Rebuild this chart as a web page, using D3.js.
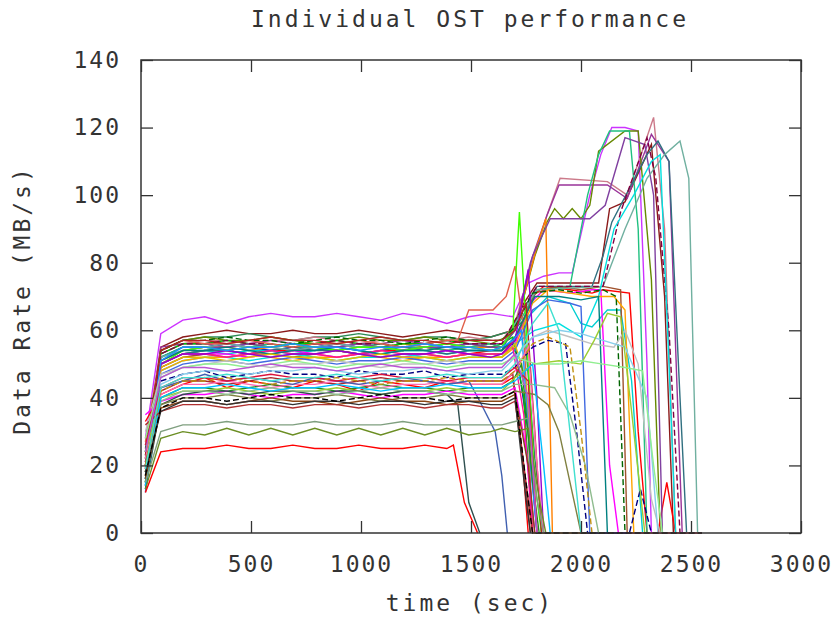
<!DOCTYPE html>
<html>
<head>
<meta charset="utf-8">
<script src="https://cdn.jsdelivr.net/npm/d3@7"></script>
<style>
  body { margin: 0; background: #fff; }
  text { font-family: "DejaVu Sans Mono", monospace; fill: #333; }
</style>
</head>
<body>
<div id="chart"></div>
<script>
const WIDTH = 837, HEIGHT = 621;
const MARGIN = { TOP: 60, RIGHT: 36, BOTTOM: 88, LEFT: 141 };

const xTicks = [0, 500, 1000, 1500, 2000, 2500, 3000];
const yTicks = [0, 20, 40, 60, 80, 100, 120, 140];

// shared sample times for the steady part of each run
const plateauTimes = [20, 90, 190, 290, 390, 490, 590, 690, 790, 890, 990, 1090, 1190, 1290, 1390, 1490, 1590];

const plateauValues = [
  [28, 59, 63, 64, 62, 64, 65, 64, 64, 65, 64, 63, 65, 64, 62, 64, 65],
  [22, 55, 58, 59, 60, 59, 59, 60, 59, 59, 60, 59, 58, 59, 60, 59, 58],
  [20, 54, 57, 58, 58, 59, 58, 57, 58, 58, 59, 58, 57, 58, 58, 57, 58],
  [18, 53, 56, 57, 57, 56, 57, 57, 58, 57, 56, 57, 57, 56, 57, 58, 57],
  [25, 55, 56, 56, 55, 56, 57, 56, 56, 55, 56, 56, 57, 56, 55, 56, 56],
  [22, 54, 57, 58, 57, 57, 58, 57, 56, 57, 58, 57, 57, 58, 57, 57, 56],
  [15, 52, 55, 55, 56, 55, 54, 55, 55, 56, 55, 55, 54, 55, 56, 55, 55],
  [17, 51, 54, 55, 55, 54, 55, 56, 55, 54, 55, 55, 56, 55, 54, 55, 55],
  [19, 50, 53, 54, 54, 53, 54, 54, 55, 54, 53, 54, 54, 55, 54, 53, 54],
  [24, 53, 56, 56, 57, 56, 55, 56, 56, 57, 56, 55, 56, 56, 57, 56, 55],
  [16, 50, 53, 54, 53, 54, 54, 53, 54, 55, 54, 53, 54, 54, 53, 54, 54],
  [21, 49, 52, 53, 53, 52, 53, 54, 53, 52, 53, 53, 52, 53, 54, 53, 52],
  [23, 52, 55, 55, 54, 55, 56, 55, 55, 54, 55, 56, 55, 55, 54, 55, 56],
  [20, 51, 54, 55, 55, 56, 55, 54, 55, 55, 56, 55, 54, 55, 55, 56, 55],
  [18, 50, 53, 54, 54, 53, 54, 55, 54, 54, 53, 54, 55, 54, 53, 54, 54],
  [14, 49, 52, 53, 52, 53, 53, 52, 53, 54, 53, 52, 53, 53, 52, 53, 53],
  [26, 52, 54, 55, 56, 55, 55, 54, 55, 56, 55, 55, 54, 55, 56, 55, 54],
  [19, 53, 56, 56, 57, 56, 56, 55, 56, 57, 56, 56, 55, 56, 57, 56, 56],
  [13, 48, 51, 52, 52, 51, 52, 53, 52, 51, 52, 52, 53, 52, 51, 52, 52],
  [27, 54, 57, 56, 56, 57, 56, 55, 56, 56, 57, 56, 55, 56, 57],
  [15, 50, 54, 55, 54, 55, 55, 56, 55, 54, 55, 55, 54, 55, 56, 55, 54],
  [17, 48, 51, 52, 52, 53, 52, 51, 52, 52, 53, 52, 51, 52, 52, 53, 52],
  [12, 47, 50, 51, 51, 50, 51, 52, 51, 50, 51, 51, 52, 51, 50, 51, 51],
  [20, 50, 53, 53, 52, 53, 54, 53, 53, 52, 53, 54, 53, 53, 52, 53, 53],
  [24, 54, 57, 57, 58, 57, 57, 56, 57, 58, 57, 57, 56, 57, 58, 57, 57],
  [16, 51, 54, 54, 55, 54, 53, 54, 54, 55, 54, 53, 54, 54, 55, 54, 54],
  [18, 49, 52, 52, 51, 52, 53, 52, 52, 51, 52, 53, 52, 52, 51, 52, 52],
  [21, 50, 53, 53, 54, 53, 52, 53, 53, 54, 53, 52, 53, 53, 54, 53, 52],
  [14, 51, 55, 55, 54, 55, 55, 56, 55, 55, 54, 55, 55, 56, 55, 55, 54],
  [23, 54, 57, 57, 56, 57, 58, 57, 57, 56, 57, 58, 57, 57, 56, 57, 57],
  [30, 47, 49, 50, 51, 50, 49, 50, 50, 51, 50, 49, 50, 50, 51, 50, 50],
  [16, 45, 47, 48, 46, 47, 48, 47, 47, 46, 48, 47, 47, 48, 46, 47, 47],
  [19, 44, 47, 48, 48, 47, 48, 48, 49, 48, 47, 48, 48, 49, 48, 47, 48],
  [33, 41, 44, 46, 43, 45, 44, 43, 45, 44, 42, 45, 44, 43, 45, 44, 44],
  [20, 42, 45, 45, 44, 45, 46, 45, 45, 44, 45, 46, 45, 45, 44, 45, 45],
  [15, 40, 43, 43, 42, 43, 44, 43, 43, 42, 43, 44, 43, 43, 42, 43, 43],
  [22, 41, 44, 44, 45, 44, 43, 44, 44, 45, 44, 43, 44, 44, 45, 44, 44],
  [17, 43, 45, 47, 45, 46, 45, 44, 46, 45, 44, 45, 46, 45, 44, 45],
  [24, 40, 42, 42, 43, 42, 41, 42, 42, 43, 42, 41, 42, 42, 43, 42, 42],
  [35, 39, 41, 41, 42, 41, 40, 41, 41, 42, 41, 40, 41, 41, 42, 41, 41],
  [13, 38, 41, 42, 42, 41, 42, 42, 41, 42, 42, 41, 42, 42, 41],
  [21, 38, 40, 40, 41, 40, 39, 40, 40, 41, 40, 39, 40, 40, 41, 40, 40],
  [18, 39, 42, 42, 41, 42, 43, 42, 42, 41, 42, 43, 42, 42, 41, 42, 42],
  [26, 43, 46, 46, 45, 46, 47, 46, 46, 45, 46, 47, 46, 46, 45, 46, 46],
  [14, 40, 43, 43, 44, 43, 42, 43, 43, 44, 43, 42, 43, 43, 44, 43, 43],
  [20, 42, 45, 45, 46, 45, 44, 45, 45, 46, 45, 44, 45, 45, 46, 45, 45],
  [16, 37, 39, 39, 38, 39, 40, 39, 39, 38, 39, 40, 39, 39, 38, 39, 39],
  [32, 36, 38, 38, 37, 38, 38, 37, 38, 38, 37, 38, 38, 37, 38, 38, 37],
  [18, 36, 39, 39, 38, 39, 39, 38, 39, 39, 38, 39, 39, 38, 39, 39, 38],
  [15, 30, 32, 32, 33, 32, 32, 32, 33, 32, 32, 32, 33, 32, 32, 32, 32],
  [13, 28, 30, 29, 31, 29, 31, 29, 31, 29, 31, 29, 31, 29, 31, 29, 30],
  [12, 24, 25, 25, 26, 25, 25, 26, 25, 25, 26, 25, 25, 26, 25],
  [28, 46, 49, 50, 50, 49, 50, 51, 50, 49, 50, 50, 51, 50, 49, 50, 50],
  [17, 37, 40, 40, 39, 40, 41, 40, 40, 39, 40, 41, 40, 40, 39, 40, 40],
  [19, 43, 46, 46, 47, 46, 45, 46, 46, 47, 46, 45, 46, 46, 47, 46, 46],
  [24, 46, 49, 49, 48, 49, 50, 49, 49, 48, 49, 50, 49, 49, 48, 49, 49]
];

// [time, MB/s] after the steady part
const tailPoints = [
  [[1690,64],[1760,74],[1830,76],[1900,77],[1960,77],[2040,100],[2090,112],[2140,120],[2200,120],[2260,119],[2300,50],[2320,0],[2550,0]],
  [[1690,60],[1740,68],[1800,74],[1900,74],[2000,74],[2080,74],[2130,96],[2200,98],[2320,115],[2380,70],[2420,0]],
  [[1690,60],[1740,63],[1790,22],[1830,0],[2550,0]],
  [[1640,57],[1700,62],[1760,76],[1845,94],[1905,105],[2120,104],[2210,100],[2330,123],[2380,90],[2430,0]],
  [[1640,56],[1700,60],[1770,80],[1845,94],[1900,103],[2120,103],[2210,99],[2320,118],[2400,110],[2460,0]],
  [[1660,58],[1720,65],[1790,82],[1845,92],[1880,96],[1920,93],[1960,96],[2000,93],[2040,97],[2080,113],[2200,119],[2260,119],[2320,75],[2360,0]],
  [[1640,55],[1700,56],[1760,30],[1800,0]],
  [[1640,55],[1700,60],[1760,75],[1800,85],[1840,93],[1870,0],[2550,0]],
  [[1640,54],[1700,57],[1780,70],[1830,73],[1950,72],[2050,71],[2100,72],[2220,71],[2260,30],[2300,0],[2350,0],[2390,15],[2430,0]],
  [[1640,56],[1690,58],[1740,40],[1780,0],[2550,0]],
  [[1640,54],[1700,58],[1760,64],[1850,70],[1950,68],[2000,62],[2050,61],[2120,66],[2180,66],[2230,45],[2280,0]],
  [[1640,53],[1700,56],[1770,68],[1830,72],[1950,71],[2050,72],[2090,72],[2130,20],[2170,0],[2550,0]],
  [[1640,55],[1700,60],[1800,72],[1950,73],[2030,100],[2080,112],[2130,119],[2220,119],[2260,90],[2300,0]],
  [[1640,55],[1700,60],[1780,82],[1860,93],[2040,93],[2110,97],[2200,117],[2290,115],[2330,100],[2370,0]],
  [[1640,54],[1700,62],[1800,73],[2050,73],[2100,82],[2140,92],[2300,112],[2350,116],[2400,110],[2450,40],[2480,0]],
  [[1640,53],[1700,57],[1790,71],[1900,73],[2000,72],[2100,73],[2180,72],[2210,0]],
  [[1640,55],[1700,62],[1800,72],[2100,73],[2200,90],[2300,105],[2380,112],[2450,116],[2490,105],[2530,0]],
  [[1640,56],[1700,63],[1800,73],[2100,73],[2180,95],[2300,117],[2340,105],[2400,60],[2450,0]],
  [[1640,52],[1700,56],[1790,60],[1900,62],[2000,58],[2080,70],[2150,90],[2240,100],[2320,110],[2360,112],[2400,50],[2430,0]],
  [[1440,57],[1490,66],[1560,66],[1600,66],[1660,70],[1700,79],[1740,60],[1780,0],[2550,0]],
  [[1640,55],[1690,60],[1720,95],[1760,50],[1790,15],[1820,0]],
  [[1640,52],[1700,55],[1780,68],[1850,72],[1950,71],[2050,70],[2150,70],[2200,66],[2240,0]],
  [[1640,51],[1700,54],[1780,66],[1850,69],[1950,68],[2000,67],[2040,0]],
  [[1640,53],[1690,55],[1740,35],[1780,0]],
  [[1640,57],[1700,61],[1780,71],[1900,72],[2000,71],[2100,72],[2160,70],[2200,0]],
  [[1640,54],[1700,58],[1790,70],[1900,70],[2000,69],[2080,70],[2120,0]],
  [[1640,52],[1700,56],[1750,45],[1800,0]],
  [[1640,53],[1700,57],[1760,78],[1800,40],[1830,0]],
  [[1640,55],[1690,57],[1730,60],[1770,20],[1800,0]],
  [[1640,57],[1700,60],[1750,68],[1790,30],[1820,0]],
  [[1640,50],[1700,52],[1780,58],[1850,60],[1950,58],[2050,56],[2150,55],[2200,60],[2260,50],[2320,10],[2360,0]],
  [[1640,47],[1700,49],[1780,55],[1850,57],[1930,56],[1980,30],[2030,0],[2220,0],[2270,13],[2320,0]],
  [[1640,48],[1700,52],[1780,58],[1900,60],[2000,59],[2100,57],[2200,55],[2300,40],[2350,0]],
  [[1640,44],[1690,46],[1730,25],[1760,0]],
  [[1640,45],[1690,47],[1740,20],[1770,0]],
  [[1640,43],[1690,45],[1730,50],[1780,15],[1810,0]],
  [[1640,44],[1700,48],[1760,55],[1800,20],[1830,0]],
  [[1540,39],[1610,30],[1640,17],[1665,0]],
  [[1640,42],[1700,46],[1780,50],[1900,51],[2000,50],[2060,57],[2120,65],[2180,64],[2230,36],[2290,0]],
  [[1640,41],[1700,43],[1750,25],[1790,0]],
  [[1440,38],[1490,9],[1540,0]],
  [[1640,40],[1700,42],[1790,41],[1850,38],[1900,30],[1950,15],[2000,0]],
  [[1640,42],[1700,44],[1780,44],[1880,43],[1950,35],[2020,20],[2080,0]],
  [[1640,46],[1700,49],[1760,45],[1800,0]],
  [[1640,43],[1700,45],[1780,50],[1830,20],[1860,0]],
  [[1640,45],[1700,48],[1780,56],[1850,58],[1950,55],[2000,30],[2050,0]],
  [[1640,39],[1700,41],[1760,20],[1790,0]],
  [[1640,37],[1700,39],[1750,15],[1780,0]],
  [[1640,38],[1700,40],[1750,10],[1770,0]],
  [[1640,32],[1700,33],[1760,34],[1800,10],[1830,0]],
  [[1640,31],[1700,30],[1760,31],[1810,10],[1840,0]],
  [[1420,26],[1470,9],[1530,0]],
  [[1640,50],[1700,52],[1800,50],[1900,50],[2000,51],[2100,50],[2200,49],[2280,48],[2330,20],[2370,0]],
  [[1640,40],[1700,42],[1750,15],[1780,0],[2550,0]],
  [[1640,46],[1700,50],[1780,62],[1850,68],[1900,60],[1950,30],[2000,0]],
  [[1640,49],[1700,53],[1760,40],[1800,0]]
];

const lineColors = [
  "#cc33ff", "#8b1a1a", "#2e8b57", "#cc7a8a", "#993399", "#668800", "#0000cd", "#ff8000",
  "#ff0000", "#00c000", "#00ced1", "#ff00ff", "#20c080", "#8040a0", "#307080", "#a0522d",
  "#70b0a0", "#800040", "#00e0e0", "#e0604a", "#40ff00", "#ffa500", "#4169e1", "#ff1493",
  "#006400", "#008080", "#e0c000", "#9400d3", "#1e90ff", "#b22222", "#c0c0c0", "#000080",
  "#87ceeb", "#ff0000", "#a52a2a", "#228b22", "#ff69b4", "#4060b0", "#9acd32", "#ff00ff",
  "#2f4f4f", "#808040", "#8fbc8f", "#dc143c", "#00bfff", "#c09010", "#8b4513", "#b03030",
  "#333333", "#7f9f7f", "#6b8e23", "#ff0000", "#90ee90", "#000000", "#40e0d0", "#ba55d3"
];

const dashedLines = [17, 24, 31, 45, 53];

const svg = d3.select("#chart").append("svg")
  .attr("width", WIDTH)
  .attr("height", HEIGHT);

const x = d3.scaleLinear().domain([0, 3000]).range([MARGIN.LEFT, WIDTH - MARGIN.RIGHT]);
const y = d3.scaleLinear().domain([0, 140]).range([HEIGHT - MARGIN.BOTTOM, MARGIN.TOP]);

const line = d3.line()
  .x(d => x(d[0]))
  .y(d => y(d[1]));

const series = plateauValues.map((vals, i) =>
  vals.map((v, j) => [plateauTimes[j], v]).concat(tailPoints[i]));

svg.append("g")
  .selectAll("path")
  .data(series)
  .enter().append("path")
  .attr("d", line)
  .attr("fill", "none")
  .attr("stroke", (d, i) => lineColors[i])
  .attr("stroke-width", 1.4)
  .attr("stroke-dasharray", (d, i) => dashedLines.includes(i) ? "6,3" : null);

// axes, ticks pointing inward on every side
const fontStyle = g => g.attr("font-family", "DejaVu Sans Mono, monospace")
  .attr("font-size", 23)
  .call(g => g.select(".domain").remove())
  .call(g => g.selectAll("line").attr("stroke", "#333").attr("stroke-width", 1.3))
  .call(g => g.selectAll("text").attr("fill", "#333").attr("letter-spacing", 2));

svg.append("g")
  .attr("transform", `translate(0,${y(0)})`)
  .call(d3.axisBottom(x).tickValues(xTicks).tickSize(-12).tickPadding(23).tickFormat(d3.format("d")))
  .call(fontStyle);

svg.append("g")
  .attr("transform", `translate(0,${y(140)})`)
  .call(d3.axisTop(x).tickValues(xTicks).tickSize(-12).tickFormat(""))
  .call(fontStyle);

svg.append("g")
  .attr("transform", `translate(${x(0)},0)`)
  .call(d3.axisLeft(y).tickValues(yTicks).tickSize(-12).tickPadding(20).tickFormat(d3.format("d")))
  .call(fontStyle);

svg.append("g")
  .attr("transform", `translate(${x(3000)},0)`)
  .call(d3.axisRight(y).tickValues(yTicks).tickSize(-12).tickFormat(""))
  .call(fontStyle);

svg.append("rect")
  .attr("x", x(0))
  .attr("y", y(140))
  .attr("width", x(3000) - x(0))
  .attr("height", y(0) - y(140))
  .attr("fill", "none")
  .attr("stroke", "#333")
  .attr("stroke-width", 1.5);

svg.append("text")
  .attr("x", 470)
  .attr("y", 27)
  .attr("text-anchor", "middle")
  .attr("font-size", 23)
  .attr("letter-spacing", 3)
  .text("Individual OST performance");

svg.append("text")
  .attr("x", 470)
  .attr("y", 611)
  .attr("text-anchor", "middle")
  .attr("font-size", 23)
  .attr("letter-spacing", 3)
  .text("time (sec)");

svg.append("text")
  .attr("transform", "translate(30,300) rotate(-90)")
  .attr("text-anchor", "middle")
  .attr("font-size", 23)
  .attr("letter-spacing", 3)
  .text("Data Rate (MB/s)");
</script>
</body>
</html>
